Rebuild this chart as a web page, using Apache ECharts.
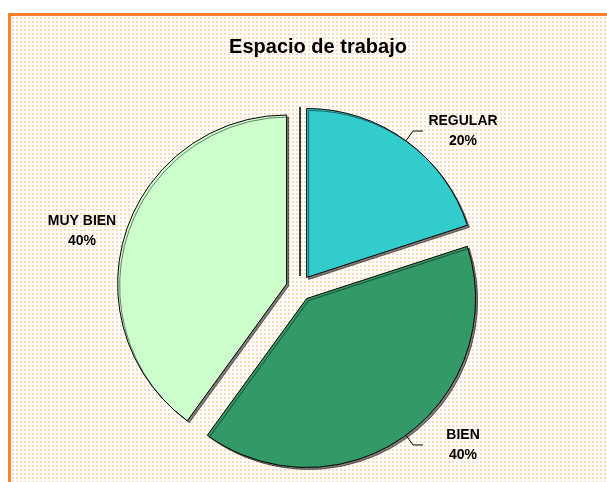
<!DOCTYPE html>
<html>
<head>
<meta charset="utf-8">
<script src="https://cdn.jsdelivr.net/npm/echarts@6/dist/echarts.min.js"></script>
<style>
  html, body { margin: 0; padding: 0; background: #fff; }
  #frame {
    position: absolute; left: 8px; top: 13px; width: 599px; height: 469px;
    border-top: 3px solid #FF7F2A; border-left: 3px solid #FF7F2A;
    box-sizing: border-box;
    background-color: #fff;
    background-image: radial-gradient(#FFD9B8 45%, transparent 55%);
    background-size: 4px 4px;
  }
  #chart { position: absolute; left: 0; top: 0; width: 607px; height: 482px; }
</style>
</head>
<body>
<div id="frame"></div>
<div id="chart"></div>
<script>
// data
const categories = ['REGULAR', 'BIEN', 'MUY BIEN'];
const percents = [20, 40, 40];
const colors = ['#33CCCC', '#339966', '#CCFFCC'];

const chart = echarts.init(document.getElementById('chart'));

const pieData = categories.map((name, i) => {
  const item = {
    name: name,
    value: percents[i],
    selected: true,
    itemStyle: { color: colors[i] }
  };
  // no leader line for the left label, it sits close to the slice
  if (name === 'MUY BIEN') item.labelLine = { show: false, length: 2, length2: 2 };
  return item;
});

const labelFont = { fontFamily: 'Liberation Sans, Arial', fontSize: 14, fontWeight: 'bold', color: '#000', width: 70, align: 'center', lineHeight: 20 };

const option = {
  backgroundColor: 'transparent',
  animation: false,
  title: {
    text: 'Espacio de trabajo',
    left: 313,
    top: 32,
    textAlign: 'center',
    textStyle: { fontFamily: 'Liberation Sans, Arial', fontSize: 20, fontWeight: 'bold', color: '#000' }
  },
  series: [{
    type: 'pie',
    center: [299, 288],
    radius: 169,
    startAngle: 90,
    selectedMode: 'multiple',
    selectedOffset: 13,
    emphasis: { disabled: true },
    itemStyle: {
      borderColor: '#000',
      borderWidth: 1,
      shadowColor: 'rgba(0,0,0,0.5)',
      shadowOffsetX: 2,
      shadowOffsetY: 2,
      shadowBlur: 0
    },
    label: {
      show: true,
      position: 'outside',
      formatter: '{t|{b}}\n{t|{d}%}',
      rich: { t: labelFont }
    },
    labelLine: {
      length: 12,
      length2: 10,
      lineStyle: { color: '#000', width: 1 }
    },
    data: pieData
  }],
  graphic: [{
    type: 'line',
    shape: { x1: 300, y1: 107, x2: 300, y2: 276 },
    style: { stroke: '#000', lineWidth: 1.5 }
  }]
};

chart.setOption(option);
</script>
</body>
</html>
